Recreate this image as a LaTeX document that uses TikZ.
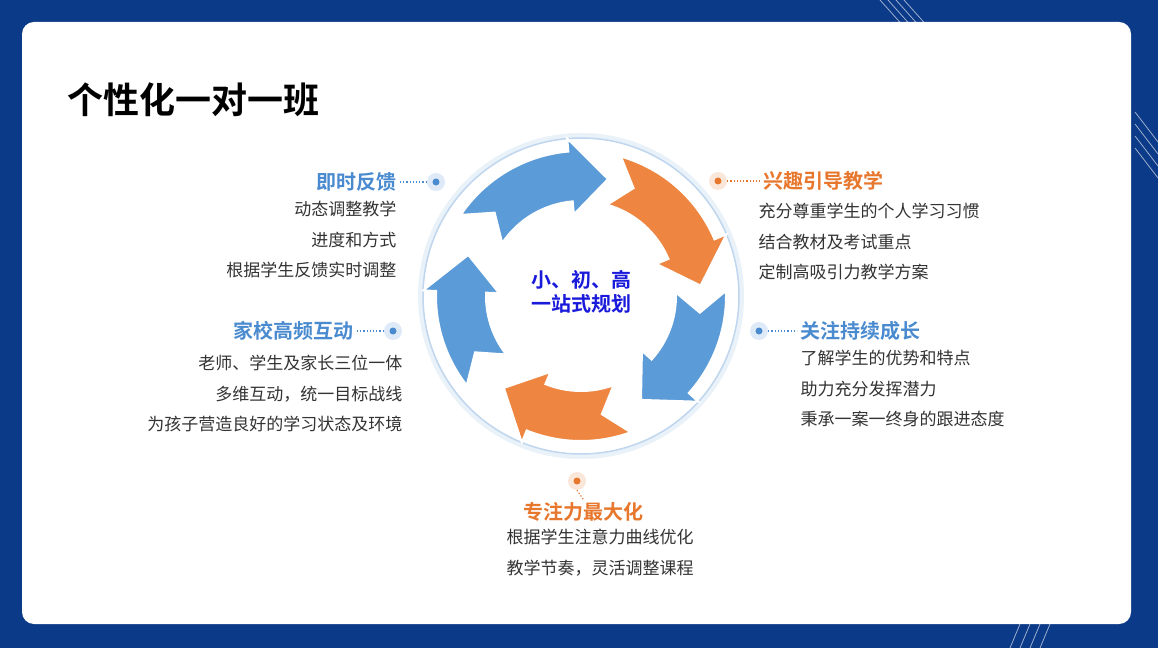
\documentclass[tikz,border=0pt]{standalone}
\usepackage{fontspec}
\setmainfont{Noto Sans CJK SC}
\newfontfamily\cjkbold{Noto Sans CJK SC Bold}
\usetikzlibrary{calc}
\definecolor{frameblue}{HTML}{0B3A88}
\definecolor{tagblue}{HTML}{4A8BD0}
\definecolor{tagorange}{HTML}{E8772E}
\definecolor{arrblue}{HTML}{5B9BD8}
\definecolor{arrorange}{HTML}{EE8540}
\definecolor{bodytext}{HTML}{333333}
\definecolor{centerblue}{HTML}{1A1ADB}
% ring arrow: #1 colour, #2 tail angle, #3 tip angle
\newcommand{\ringarrow}[3]{%
  \fill[#1, draw=white, line width=2pt] ($(hub)+(#2:145)$) arc (#2:#3+18:145) -- ($(hub)+(#3+18:158)$)
    -- ($(hub)+(#3:120)$) -- ($(hub)+(#3+18:82)$) -- ($(hub)+(#3+18:95)$)
    arc (#3+18:#2:95) -- ($(hub)+(#2-10:120)$) -- cycle;}
\begin{document}
\begin{tikzpicture}[x=1pt, y=1pt,
    heading/.style={font=\cjkbold\fontsize{20}{24}\selectfont},
    body/.style={font=\fontsize{17}{30.5}\selectfont, text=bodytext},
    dotmark/.style={circle, fill=#1, inner sep=0pt, minimum size=7pt},
    halo/.style={circle, fill=#1!18, inner sep=0pt, minimum size=18pt},
    lead/.style={dotted, line width=1.2pt, #1}
  ]
  \useasboundingbox (0,0) rectangle (1158,648);
  \fill[frameblue] (0,0) rectangle (1158,648);
  % corner lines
  \foreach \r in {0,8,16,24}
    \draw[white!60!frameblue, line width=0.8pt] (880+\r,648) -- (905+\r,620);
  \foreach \r in {0,12,24,36}
    \draw[white!60!frameblue, line width=0.8pt] (1158,470+\r) -- (1135,500+\r);
  \foreach \r in {0,10,20,30}
    \draw[white!60!frameblue, line width=0.8pt] (1010+\r,0) -- (1020+\r,24);
  \fill[white, rounded corners=12pt] (22,24) rectangle (1131,626);

  \node[anchor=west, font=\cjkbold\fontsize{36}{40}\selectfont] (title) at (64,548) {个性化一对一班};

  % cycle
  \coordinate (hub) at (581,352);
  \fill[tagblue!12] (hub) circle (163);
  \draw[tagblue!35, line width=1.5pt, fill=white] (hub) circle (158);
  \ringarrow{arrblue}{146}{77}
  \ringarrow{arrorange}{74}{5}
  \ringarrow{arrblue}{2}{-60}
  \ringarrow{arrorange}{-70}{-130}
  \ringarrow{arrblue}{218}{160}
  \node[align=center, text=centerblue, font=\cjkbold\fontsize{20}{24}\selectfont] (core) at (581,356) {小、初、高\\一站式规划};

  % feedback
  \node[halo=tagblue] (fbh) at (436,466) {};
  \node[dotmark=tagblue] (fbd) at (fbh) {};
  \node[heading, text=tagblue, anchor=east] (fb) at (400,466) {即时反馈};
  \draw[lead=tagblue] (fb.east) -- (fbh.west);
  \node[body, anchor=north east, align=right] (fbtext) at (400,450) {动态调整教学\\进度和方式\\根据学生反馈实时调整};

  % home-school
  \node[halo=tagblue] (hsh) at (393,317) {};
  \node[dotmark=tagblue] (hsd) at (hsh) {};
  \node[heading, text=tagblue, anchor=east] (hs) at (357,317) {家校高频互动};
  \draw[lead=tagblue] (hs.east) -- (hsh.west);
  \node[body, anchor=north east, align=right] (hstext) at (406,296) {老师、学生及家长三位一体\\多维互动，统一目标战线\\为孩子营造良好的学习状态及环境};

  % interest
  \node[halo=tagorange] (inh) at (718,467) {};
  \node[dotmark=tagorange] (ind) at (inh) {};
  \node[heading, text=tagorange, anchor=west] (in) at (760,467) {兴趣引导教学};
  \draw[lead=tagorange] (inh.east) -- (in.west);
  \node[body, anchor=north west, align=left] (intext) at (755,448) {充分尊重学生的个人学习习惯\\结合教材及考试重点\\定制高吸引力教学方案};

  % growth
  \node[halo=tagblue] (grh) at (759,317) {};
  \node[dotmark=tagblue] (grd) at (grh) {};
  \node[heading, text=tagblue, anchor=west] (gr) at (797,317) {关注持续成长};
  \draw[lead=tagblue] (grh.east) -- (gr.west);
  \node[body, anchor=north west, align=left] (grtext) at (797,301) {了解学生的优势和特点\\助力充分发挥潜力\\秉承一案一终身的跟进态度};

  % focus
  \node[halo=tagorange] (foh) at (577,167) {};
  \node[dotmark=tagorange] (fod) at (foh) {};
  \node[heading, text=tagorange] (fo) at (583,136) {专注力最大化};
  \draw[lead=tagorange] (foh.south) -- (fo.north);
  \node[body, anchor=north, align=center] (fotext) at (600,122) {根据学生注意力曲线优化\\教学节奏，灵活调整课程};
\end{tikzpicture}
\end{document}
